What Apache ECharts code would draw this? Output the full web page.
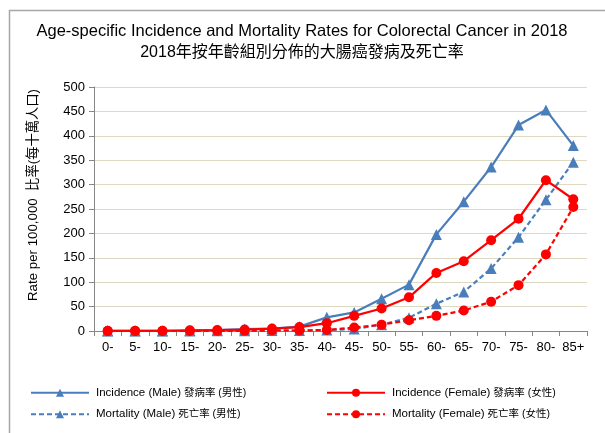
<!DOCTYPE html>
<html><head><meta charset="utf-8">
<script src="https://cdn.jsdelivr.net/npm/echarts@6/dist/echarts.min.js"></script>
<style>html,body{margin:0;padding:0;background:#fff}#c{width:605px;height:433px}</style>
</head><body><div id="c"></div>
<script>
const categories = ['0-','5-','10-','15-','20-','25-','30-','35-','40-','45-','50-','55-','60-','65-','70-','75-','80-','85+'];
const incidenceMale   = [0.3,0.3,0.5,1,2,4,5,9,28,38,66,95,198,265,336,422,453,380];
const incidenceFemale = [0.3,0.3,0.5,1.5,2,3,5,8,16,31,46,69,119,143,186,230,309,270];
const mortalityMale   = [0,0,0,0,0.3,0.5,1,1,2,4,13,27,56,80,128,192,269,346];
const mortalityFemale = [0,0,0,0,0.3,0.5,1,1,2,7,13,22,31,42,60,94,157,254];
const yTicks = {min:0, max:500, interval:50};
const names = ['Incidence (Male) 發病率 (男性)','Mortality (Male) 死亡率 (男性)','Incidence (Female) 發病率 (女性)','Mortality (Female) 死亡率 (女性)'];

const font = '"Liberation Sans", Arial, "Noto Sans CJK TC", sans-serif';
const blue = '#4a7ebb', red = '#ff0000';
function mk(name, data, color, sym, dashed, z){
  return {name, type:'line', data, symbol:sym, symbolSize: sym==='triangle'?11:10, z,
    itemStyle:{color}, lineStyle:{color, width:2.2, type: dashed?[5,3]:'solid'}, animation:false};
}
function legendFmt(name){
  const i = name.indexOf(')') + 1;
  return '{a|' + name.slice(0, i) + '}{b|' + name.slice(i) + '}';
}
const legendText = {color:'#000', fontFamily:font, padding:[0,0,0,2],
  rich:{a:{fontSize:11.5, fontFamily:font, color:'#000'}, b:{fontSize:10.5, fontFamily:font, color:'#000'}}};
const chart = echarts.init(document.getElementById('c'));
chart.setOption({
  backgroundColor:'#fff',
  animation:false,
  textStyle:{fontFamily:font},
  title:{text:'{a|Age-specific Incidence and Mortality Rates for Colorectal Cancer in 2018}\n{b|2018年按年齡組別分佈的大腸癌發病及死亡率}',
    left:297, top:16, textAlign:'center',
    textStyle:{fontFamily:font, fontSize:16, fontWeight:'normal', color:'#000', lineHeight:21,
      rich:{a:{fontSize:16.5, fontFamily:font, color:'#000', lineHeight:21},
            b:{fontSize:16, fontFamily:font, color:'#000', lineHeight:21}}}},
  grid:{left:94, right:18, top:87, bottom:102, containLabel:false},
  xAxis:{type:'category', data:categories, boundaryGap:true,
    axisLine:{lineStyle:{color:'#868686', width:1}},
    axisTick:{show:true, length:5, lineStyle:{color:'#868686'}},
    axisLabel:{color:'#000', fontSize:13, margin:10, interval:0, fontFamily:font},
    splitLine:{show:false}},
  yAxis:{type:'value', min:yTicks.min, max:yTicks.max, interval:yTicks.interval,
    axisLine:{show:true, lineStyle:{color:'#868686'}},
    axisTick:{show:true, length:5, lineStyle:{color:'#868686'}},
    axisLabel:{color:'#000', fontSize:13, margin:9, fontFamily:font},
    splitLine:{lineStyle:{color:'#ddd9c3', width:1.2}}},
  legend:[
    {data:[names[0],names[1]], orient:'vertical', left:30, top:387, padding:0, itemWidth:58, itemHeight:10, itemGap:10,
     formatter:legendFmt, textStyle:legendText},
    {data:[names[2],names[3]], orient:'vertical', left:326, top:387, padding:0, itemWidth:58, itemHeight:10, itemGap:10,
     formatter:legendFmt, textStyle:legendText}
  ],
  graphic:[
    {type:'rect', left:7, top:8, shape:{width:620, height:450}, style:{fill:'none', stroke:'#a6a6a6', lineWidth:1.5}, silent:true},
    {type:'text', x:33, y:195, rotation:Math.PI/2,
     style:{text:'Rate per 100,000  比率(每十萬人口)', font:'13.3px '+font, fill:'#000', align:'center', verticalAlign:'middle'}}
  ],
  series:[
    mk(names[0], incidenceMale, blue, 'triangle', false, 3),
    mk(names[1], mortalityMale, blue, 'triangle', true, 2),
    mk(names[2], incidenceFemale, red, 'circle', false, 5),
    mk(names[3], mortalityFemale, red, 'circle', true, 4)
  ]
});
</script></body></html>
